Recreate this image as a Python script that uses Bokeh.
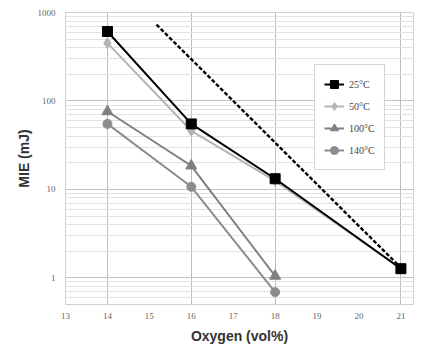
from bokeh.plotting import figure
from bokeh.models import ColumnDataSource, FixedTicker, Legend, LegendItem, NumeralTickFormatter
from bokeh.embed import file_html
from bokeh.resources import INLINE

oxygen = [14, 16, 18, 21]
mie_25 = [610, 55, 13.2, 1.27]
mie_50 = [450, 46, 12.5, 1.27]
oxygen_hot = [14, 16, 18]
mie_100 = [76, 18.5, 1.05]
mie_140 = [55, 10.7, 0.69]
trend_x = [15.17, 21]
trend_y = [730, 1.3]
x_ticks = [13, 14, 15, 16, 17, 18, 19, 20, 21]
y_ticks = [1, 10, 100, 1000]
labels = ["25°C", "50°C", "100°C", "140°C"]

p = figure(width=421, height=346, output_backend="svg", toolbar_location=None,
           y_axis_type="log", x_range=(13, 21.3), y_range=(0.5, 1000),
           min_border_left=65, min_border_right=8, min_border_top=12, min_border_bottom=42)
p.background_fill_color = "white"
p.border_fill_color = "white"
p.outline_line_color = "#d0d0d0"

font = "Liberation Sans"
p.xaxis.ticker = FixedTicker(ticks=x_ticks)
p.yaxis.ticker = FixedTicker(ticks=y_ticks, minor_ticks=[m * d for d in [0.1, 1, 10, 100] for m in range(2, 10)])
p.yaxis.formatter = NumeralTickFormatter(format="0")
for ax in (p.xaxis[0], p.yaxis[0]):
    ax.axis_line_color = None
    ax.major_tick_line_color = None
    ax.minor_tick_line_color = None
    ax.major_tick_out = 0
    ax.major_tick_in = 0
    ax.minor_tick_out = 0
    ax.minor_tick_in = 0
    ax.major_label_text_font = "Liberation Serif"
    ax.major_label_text_font_size = "9px"
    ax.major_label_text_color = "#666666"
    ax.axis_label_text_font = font
    ax.axis_label_text_font_style = "bold"
    ax.axis_label_text_font_size = "14px"
    ax.axis_label_text_color = "#333333"
p.xaxis.axis_label = "Oxygen (vol%)"
p.yaxis.axis_label = "MIE (mJ)"
p.xaxis.major_label_standoff = 8
p.xaxis.axis_label_standoff = 6
p.yaxis.major_label_standoff = 10
p.yaxis.axis_label_standoff = 3

p.xgrid.ticker = FixedTicker(ticks=[14, 16, 18, 21])
p.xgrid.grid_line_color = "#bbbbbb"
p.ygrid.grid_line_color = "#c4c4c4"
p.ygrid.minor_grid_line_color = "#e2e2e2"

p.line(trend_x, trend_y, line_color="black", line_width=2.4, line_dash="4 2")

src25 = ColumnDataSource(dict(x=oxygen, y=mie_25))
src50 = ColumnDataSource(dict(x=oxygen, y=mie_50))
src100 = ColumnDataSource(dict(x=oxygen_hot, y=mie_100))
src140 = ColumnDataSource(dict(x=oxygen_hot, y=mie_140))

c50, c100, c140 = "#b4b4b4", "#7f7f7f", "#8c8c8c"
l140 = p.line("x", "y", source=src140, line_color=c140, line_width=2)
m140 = p.scatter("x", "y", source=src140, marker="circle", size=9, color=c140)
l100 = p.line("x", "y", source=src100, line_color=c100, line_width=2)
m100 = p.scatter("x", "y", source=src100, marker="triangle", size=11, color=c100)
l50 = p.line("x", "y", source=src50, line_color=c50, line_width=2)
m50 = p.scatter("x", "y", source=src50, marker="diamond", size=11, color=c50)
l25 = p.line("x", "y", source=src25, line_color="black", line_width=2)
m25 = p.scatter("x", "y", source=src25, marker="square", size=10, color="black")

legend = Legend(items=[LegendItem(label=labels[0], renderers=[l25, m25]),
                       LegendItem(label=labels[1], renderers=[l50, m50]),
                       LegendItem(label=labels[2], renderers=[l100, m100]),
                       LegendItem(label=labels[3], renderers=[l140, m140])],
                location=(249, 134))
legend.label_text_font = "Liberation Serif"
legend.label_text_font_size = "10px"
legend.label_text_color = "#444444"
legend.border_line_color = "#aaaaaa"
legend.glyph_width = 20
legend.spacing = 2
legend.padding = 9
legend.margin = 0
p.add_layout(legend, "center")

open("out.html", "w").write(file_html(p, INLINE))
